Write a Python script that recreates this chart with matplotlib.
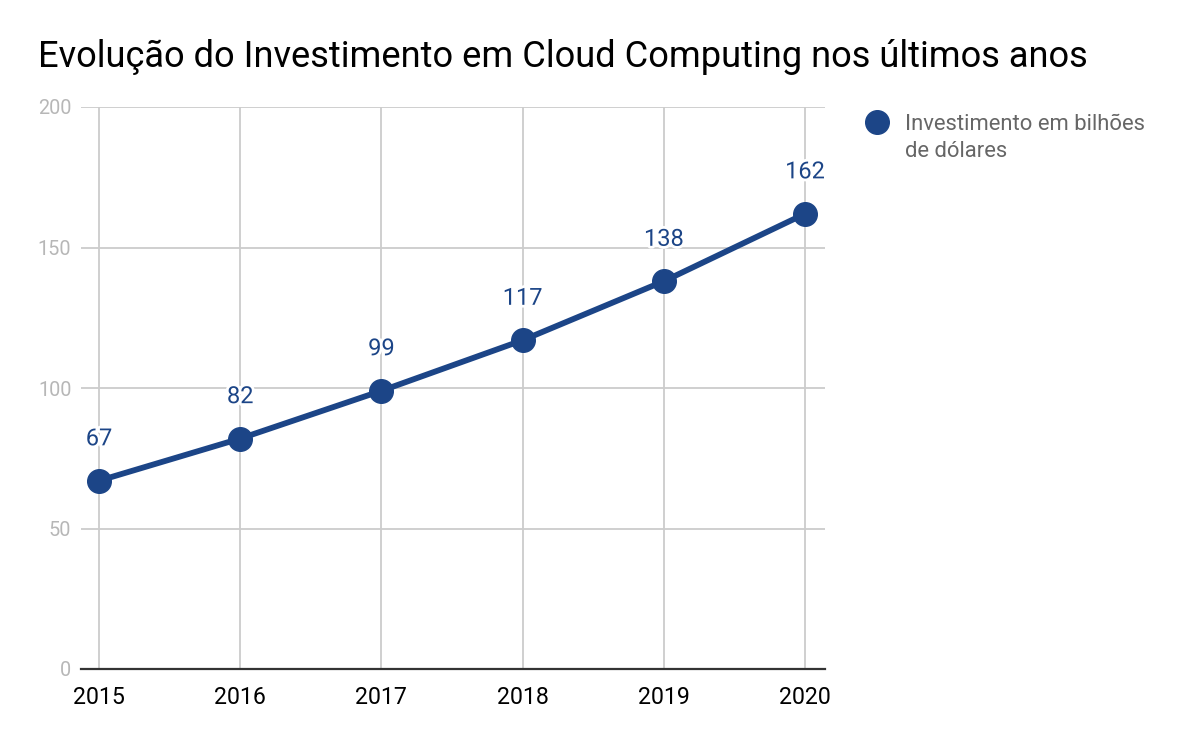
import matplotlib
matplotlib.use("Agg")
import matplotlib.pyplot as plt
import matplotlib.patheffects as pe
from matplotlib.lines import Line2D

years = [2015, 2016, 2017, 2018, 2019, 2020]
values = [67, 82, 99, 117, 138, 162]
yticks = [0, 50, 100, 150, 200]
title = "Evolução do Investimento em Cloud Computing nos últimos anos"
series_lines = ["Investimento em bilhões", "de dólares"]

plt.rcParams['font.family'] = ['Roboto', 'DejaVu Sans']
COLOR = "#1c4587"

fig = plt.figure(figsize=(12, 7.42), dpi=100)
ax = fig.add_axes([81/1200, 1-669/742, (825-81)/1200, (669-107)/742])

ax.plot(years, values, color=COLOR, lw=4.2, marker='o', markersize=17,
        solid_capstyle='round', zorder=3, clip_on=False)

for x, v in zip(years, values):
    ax.annotate(str(v), (x, v), xytext=(0, 25.5), textcoords='offset points',
                ha='center', va='baseline', fontsize=17, color=COLOR, zorder=4,
                path_effects=[pe.withStroke(linewidth=4, foreground='white')])

ax.set_ylim(0, 200)
ax.set_xlim(2015 - 18/141.2, 2020 + 20/141.2)
ax.set_yticks(yticks)
ax.set_xticks(years)
ax.set_xticklabels([str(y) for y in years])
ax.tick_params(axis='y', length=0, pad=7, labelsize=14.3, labelcolor='#b7b7b7')
ax.tick_params(axis='x', length=0, pad=12, labelsize=16.7, labelcolor='#000000')
ax.grid(True, color='#cccccc', lw=1.3)
ax.set_axisbelow(True)
for s in ['top', 'right', 'left']:
    ax.spines[s].set_visible(False)
ax.spines['bottom'].set_color('#333333')
ax.spines['bottom'].set_linewidth(1.6)
ax.spines['bottom'].set_zorder(2.5)

fig.text(38/1200, 1-67/742, title, fontsize=26.1, color='#000000', ha='left', va='baseline')

# legend
fig.add_artist(Line2D([877/1200], [1-122/742], marker='o', markersize=17,
                      color=COLOR, transform=fig.transFigure))
for i, line in enumerate(series_lines):
    fig.text(905/1200, 1-(130 + 27*i)/742, line, fontsize=15.8, color='#666666',
             ha='left', va='baseline')

fig.savefig("out.png", dpi=100)
